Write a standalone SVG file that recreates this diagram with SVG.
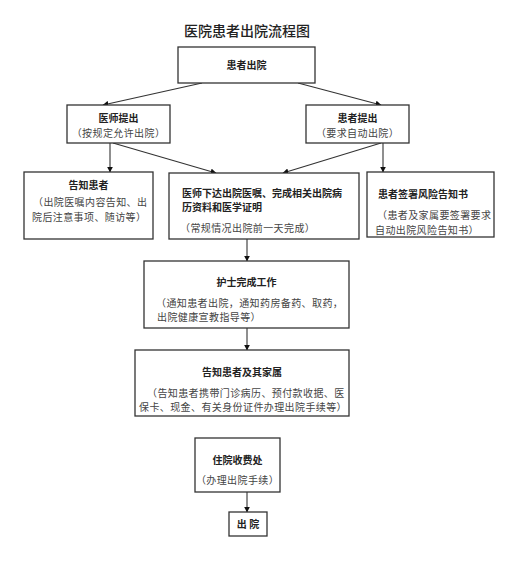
<svg xmlns="http://www.w3.org/2000/svg" width="508" height="585" viewBox="0 0 508 585">
<style>
text{font-family:"Noto Sans CJK SC","Noto Sans CJK TC",sans-serif;fill:#222}
.box{fill:#fff;stroke:#333;stroke-width:1.3}
.h{font-size:10px;font-weight:bold}
.b{font-size:10px;fill:#444;letter-spacing:0.4px}
.c{text-anchor:middle}
.ln{stroke:#333;stroke-width:1.1;fill:none;marker-end:url(#ar)}
</style>
<defs>
<marker id="ar" viewBox="0 0 10 10" refX="9" refY="5" markerWidth="6" markerHeight="6" orient="auto" markerUnits="userSpaceOnUse">
<path d="M0,0 L10,5 L0,10 z" fill="#111"/>
</marker>
</defs>
<rect width="508" height="585" fill="#fff"/>
<text x="247" y="36" class="c" style="font-size:14px;font-weight:500">医院患者出院流程图</text>
<g id="connectors">
<line class="ln" x1="202" y1="83" x2="103" y2="105"/>
<line class="ln" x1="298" y1="83" x2="381" y2="105"/>
<line class="ln" x1="110" y1="143" x2="110" y2="172"/>
<line class="ln" x1="113" y1="143" x2="216" y2="173"/>
<line class="ln" x1="381" y1="143" x2="283" y2="173"/>
<line class="ln" x1="383" y1="143" x2="383" y2="172"/>
<line class="ln" x1="247" y1="239" x2="247" y2="261"/>
<line class="ln" x1="247" y1="328" x2="247" y2="350"/>
<line class="ln" x1="247" y1="492" x2="247" y2="512"/>
</g>
<g id="n_start">
<rect class="box" x="178" y="47" width="137" height="36"/>
<text x="246.5" y="69" class="h c">患者出院</text>
</g>
<g id="n_doctor">
<rect class="box" x="67" y="105" width="103" height="38"/>
<text x="118.5" y="122" class="h c">医师提出</text>
<text x="118.5" y="137" class="b c">（按规定允许出院）</text>
</g>
<g id="n_patient">
<rect class="box" x="306" y="105" width="103" height="38"/>
<text x="357.5" y="122" class="h c">患者提出</text>
<text x="357.5" y="137" class="b c">（要求自动出院）</text>
</g>
<g id="n_inform">
<rect class="box" x="24" y="172" width="129" height="67"/>
<text x="88.5" y="189" class="h c">告知患者</text>
<text x="33" y="206" class="b">（出院医嘱内容告知、出</text>
<text x="32" y="221" class="b">院后注意事项、随访等）</text>
</g>
<g id="n_orders">
<rect class="box" x="169" y="173" width="190" height="66"/>
<text x="182" y="197" class="h">医师下达出院医嘱、完成相关出院病</text>
<text x="182" y="211" class="h">历资料和医学证明</text>
<text x="180" y="232" class="b">（常规情况出院前一天完成）</text>
</g>
<g id="n_risk">
<rect class="box" x="367" y="172" width="127" height="65"/>
<text x="378" y="198" class="h">患者签署风险告知书</text>
<text x="377" y="219" class="b">（患者及家属要签署要求</text>
<text x="375" y="234" class="b">自动出院风险告知书）</text>
</g>
<g id="n_nurse">
<rect class="box" x="144" y="261" width="205" height="67"/>
<text x="246.5" y="286" class="h c">护士完成工作</text>
<text x="156" y="307" class="b">（通知患者出院，通知药房备药、取药，</text>
<text x="157" y="321" class="b">出院健康宣教指导等）</text>
</g>
<g id="n_family">
<rect class="box" x="135" y="350" width="214" height="66"/>
<text x="242" y="376" class="h c">告知患者及其家属</text>
<text x="147" y="397" class="b">（告知患者携带门诊病历、预付款收据、医</text>
<text x="139" y="411" class="b">保卡、现金、有关身份证件办理出院手续等）</text>
</g>
<g id="n_cashier">
<rect class="box" x="195" y="438" width="85" height="54"/>
<text x="237.5" y="464" class="h c">住院收费处</text>
<text x="237.5" y="484" class="b c">（办理出院手续）</text>
</g>
<g id="n_end">
<rect class="box" x="229" y="512" width="38" height="24"/>
<text x="248" y="528" class="h c">出 院</text>
</g>
</svg>
